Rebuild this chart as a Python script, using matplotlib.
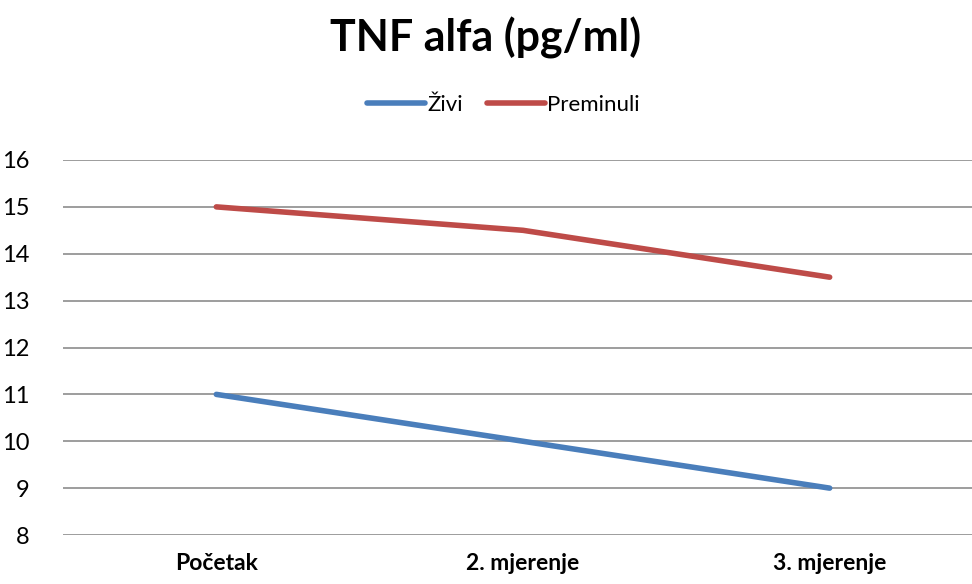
import matplotlib.pyplot as plt

# data
categories = ['Početak', '2. mjerenje', '3. mjerenje']
zivi = [11, 10, 9]
preminuli = [15, 14.5, 13.5]
y_ticks = [8, 9, 10, 11, 12, 13, 14, 15, 16]

plt.rcParams['font.family'] = ['Lato', 'DejaVu Sans']

fig = plt.figure(figsize=(9.72, 5.84), dpi=100)
# axes: left 63px, bottom at 535px, top at 160px, categories spaced ~306px
ax = fig.add_axes([63 / 972, 49 / 584, 920 / 972, 375 / 584])

x = list(range(len(categories)))
ax.plot(x, zivi, color='#4A7EBB', lw=4, solid_capstyle='round', label='Živi', zorder=3)
ax.plot(x, preminuli, color='#BE4B48', lw=4, solid_capstyle='round', label='Preminuli', zorder=3)

ax.set_xlim(-0.5, 2.5)
ax.set_ylim(8, 16)
ax.set_yticks(y_ticks)
ax.set_xticks(x)
ax.set_xticklabels(categories, fontweight='bold', fontsize=16.5)
ax.tick_params(axis='y', labelsize=17, length=0, pad=24)
ax.tick_params(axis='x', length=0, pad=13)
ax.grid(axis='y', color='#8C8C8C', lw=1.2)
ax.set_axisbelow(True)
for s in ax.spines.values():
    s.set_visible(False)

fig.text(0.5, 0.935, 'TNF alfa (pg/ml)', ha='center', va='center',
         fontsize=31, fontweight='bold')
fig.legend(loc='center', bbox_to_anchor=(0.518, 0.82), ncol=2, frameon=False,
           fontsize=16, handlelength=2.6, handletextpad=0.1, columnspacing=1.1)

fig.savefig('out.png', dpi=100)
